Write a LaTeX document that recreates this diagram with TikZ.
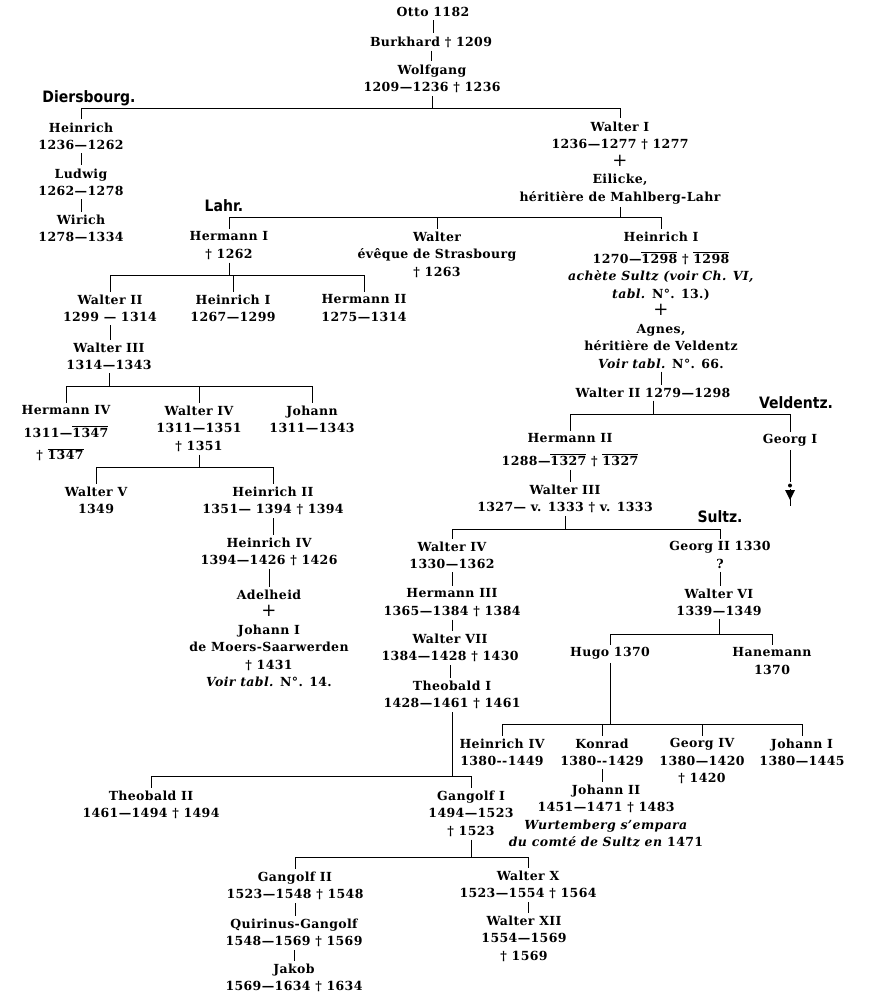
\documentclass[tikz,border=0pt]{standalone}
\usepackage{fontspec}
\setmainfont{DejaVu Serif}[LetterSpace=3]
\newfontfamily\lblfamily{DejaVu Sans}
\newcommand\pfont{\fontsize{12.5}{17.5}\selectfont\bfseries}
\newcommand\plusfont{\fontsize{18}{17.5}\selectfont\mdseries}
\newcommand\lblfont{\lblfamily\fontsize{14}{16}\selectfont\bfseries}
\newcommand\myover[1]{\ensuremath{\overline{\hbox{#1}}}}
\begin{document}
\begin{tikzpicture}[x=1pt,y=-1pt,
  person/.style={align=center, inner xsep=0pt, inner ysep=3pt, anchor=north, yshift=7.5pt, font=\pfont},
  lbl/.style={inner sep=0pt, font=\lblfont, yscale=1.12, transform shape},
  ln/.style={line width=0.85pt}]
\fill[white] (0,0) rectangle (869,995);
\path[use as bounding box] (0,0) rectangle (869,995);

% ---------- top ----------
\node[person] (otto) at (433,12) {Otto 1182};
\node[person] (burk) at (431,41) {Burkhard † 1209};
\node[person] (wolf) at (432,69) {Wolfgang\\1209—1236 † 1236};

% ---------- Diersbourg ----------
\node[lbl] (dier) at (89,98) {Diersbourg.};
\node[person] (dhein) at (81,127) {Heinrich\\1236—1262};
\node[person] (ludw) at (81,173) {Ludwig\\1262—1278};
\node[person] (wiri) at (81,219) {Wirich\\1278—1334};

\node[person] (walt1) at (620,126) {Walter I\\1236—1277 † 1277\\{\plusfont +}\\Eilicke,\\héritière de Mahlberg-Lahr};

% ---------- Lahr ----------
\node[lbl] (lahr) at (224,206) {Lahr.};
\node[person] (herm1) at (229,236) {Hermann I\\† 1262};
\node[person] (bish) at (437,236) {Walter\\évêque de Strasbourg\\† 1263};
\node[person] (hein1) at (661,236) {Heinrich I\\[4.5pt]1270—\myover{1298} † \myover{1298}\\\textit{achète Sultz (voir Ch. VI,}\\\textit{tabl.} N°. 13.)\\{\plusfont +}\\Agnes,\\héritière de Veldentz\\\textit{Voir tabl.} N°. 66.};
\node[person] (walt2r) at (653,392) {Walter II 1279—1298};

\node[person] (walt2l) at (110,299) {Walter II\\1299 — 1314};
\node[person] (hein1l) at (233,299) {Heinrich I\\1267—1299};
\node[person] (herm2l) at (364,299) {Hermann II\\1275—1314};
\node[person] (walt3l) at (109,347) {Walter III\\1314—1343};
\node[person] (herm4) at (66,410) {Hermann IV\\[5pt]1311—\myover{1347}\\[5pt]† \myover{1347}\hspace*{12pt}};
\node[person] (walt4l) at (199,410) {Walter IV\\1311—1351\\† 1351};
\node[person] (joh) at (312,410) {Johann\\1311—1343};
\node[person] (walt5) at (96,491) {Walter V\\1349};
\node[person] (hein2) at (273,491) {Heinrich II\\1351— 1394 † 1394};
\node[person] (hein4l) at (269,542) {Heinrich IV\\1394—1426 † 1426};
\node[person] (adel) at (269,594) {Adelheid\\{\plusfont +}\\Johann I\\de Moers-Saarwerden\\† 1431\\\textit{Voir tabl.} N°. 14.};

% ---------- Veldentz / Sultz ----------
\node[lbl] (veld) at (796,403) {Veldentz.};
\node[person] (herm2r) at (570,438) {Hermann II\\[5pt]1288—\myover{1327} † \myover{1327}};
\node[person] (georg1) at (790,439) {Georg I};
\node[person] (walt3r) at (565,489) {Walter III\\1327— v. 1333 † v. 1333};
\node[lbl] (sultz) at (720,517) {Sultz.};
\node[person] (walt4r) at (452,546) {Walter IV\\1330—1362};
\node[person] (georg2) at (720,546) {Georg II 1330\\?};
\node[person] (walt6) at (719,593) {Walter VI\\1339—1349};
\node[person] (hugo) at (610,652) {Hugo 1370};
\node[person] (hanem) at (772,652) {Hanemann\\1370};
\node[person] (herm3) at (452,593) {Hermann III\\1365—1384 † 1384};
\node[person] (walt7) at (450,638) {Walter VII\\1384—1428 † 1430};
\node[person] (theo1) at (452,685) {Theobald I\\1428—1461 † 1461};
\node[person] (hein4r) at (502,743) {Heinrich IV\\1380-{}-1449};
\node[person] (konr) at (602,743) {Konrad\\1380-{}-1429};
\node[person] (georg4) at (702,743) {Georg IV\\1380—1420\\† 1420};
\node[person] (joh1) at (802,743) {Johann I\\1380—1445};
\node[person] (joh2) at (606,789) {Johann II\\1451—1471 † 1483\\\textit{Wurtemberg s'empara}\\\textit{du comté de Sultz en} 1471};
\node[person] (theo2) at (151,795) {Theobald II\\1461—1494 † 1494};
\node[person] (gang1) at (471,795) {Gangolf I\\1494—1523\\† 1523};
\node[person] (gang2) at (295,876) {Gangolf II\\1523—1548 † 1548};
\node[person] (walt10) at (528,875) {Walter X\\1523—1554 † 1564};
\node[person] (quir) at (294,923) {Quirinus-Gangolf\\1548—1569 † 1569};
\node[person] (jakob) at (294,968) {Jakob\\1569—1634 † 1634};
\node[person] (walt12) at (524,920) {Walter XII\\1554—1569\\† 1569};

% ---------- single descents ----------
\foreach \a/\b in {otto/burk, burk/wolf, dhein/ludw, ludw/wiri, hein1/walt2r,
  walt2l/walt3l, hein2/hein4l, hein4l/adel, herm2r/walt3r, georg2/walt6,
  walt4r/herm3, herm3/walt7, walt7/theo1, konr/joh2, gang2/quir, quir/jakob, walt10/walt12}
  \draw[ln] (\a.south) -- (\a.south |- \b.north);

% ---------- bars ----------
\coordinate (B1) at (0,108);
\draw[ln] (wolf.south) -- (wolf.south |- B1);
\draw[ln] (dhein.north) -- (dhein.north |- B1) -- (walt1.north |- B1) -- (walt1.north);

\coordinate (B2) at (0,217);
\draw[ln] (walt1.south) -- (walt1.south |- B2);
\draw[ln] (herm1.north) -- (herm1.north |- B2) -- (hein1.north |- B2) -- (hein1.north);
\draw[ln] (bish.north) -- (bish.north |- B2);

\coordinate (B3) at (0,275);
\draw[ln] (herm1.south) -- (herm1.south |- B3);
\draw[ln] (walt2l.north) -- (walt2l.north |- B3) -- (herm2l.north |- B3) -- (herm2l.north);
\draw[ln] (hein1l.north) -- (hein1l.north |- B3);

\coordinate (B4) at (0,386);
\draw[ln] (walt3l.south) -- (walt3l.south |- B4);
\draw[ln] (herm4.north) -- (herm4.north |- B4) -- (joh.north |- B4) -- (joh.north);
\draw[ln] (walt4l.north) -- (walt4l.north |- B4);

\coordinate (B5) at (0,467);
\draw[ln] (walt4l.south) -- (walt4l.south |- B5);
\draw[ln] (walt5.north) -- (walt5.north |- B5) -- (hein2.north |- B5) -- (hein2.north);

\coordinate (B6) at (0,414);
\draw[ln] (walt2r.south) -- (walt2r.south |- B6);
\draw[ln] (herm2r.north) -- (herm2r.north |- B6) -- (georg1.north |- B6) -- (georg1.north);

\coordinate (B7) at (0,529);
\draw[ln] (walt3r.south) -- (walt3r.south |- B7);
\draw[ln] (walt4r.north) -- (walt4r.north |- B7) -- (georg2.north |- B7) -- (georg2.north);

\coordinate (B8) at (0,634);
\draw[ln] (walt6.south) -- (walt6.south |- B8);
\draw[ln] (hugo.north) -- (hugo.north |- B8) -- (hanem.north |- B8) -- (hanem.north);

\coordinate (B9) at (0,724);
\draw[ln] (hugo.south) -- (hugo.south |- B9);
\draw[ln] (hein4r.north) -- (hein4r.north |- B9) -- (joh1.north |- B9) -- (joh1.north);
\draw[ln] (konr.north) -- (konr.north |- B9);
\draw[ln] (georg4.north) -- (georg4.north |- B9);

\coordinate (B10) at (0,776);
\draw[ln] (theo1.south) -- (theo1.south |- B10);
\draw[ln] (theo2.north) -- (theo2.north |- B10) -- (gang1.north |- B10) -- (gang1.north);

\coordinate (B11) at (0,857);
\draw[ln] (gang1.south) -- (gang1.south |- B11);
\draw[ln] (gang2.north) -- (gang2.north |- B11) -- (walt10.north |- B11) -- (walt10.north);

% ---------- Georg I continuation ----------
\coordinate (g1) at (0,482);
\coordinate (gd) at (0,485.5);
\coordinate (g2) at (0,489);
\coordinate (g3) at (0,506);
\draw[ln] (georg1.south) -- (georg1.south |- g1);
\fill (georg1.south |- gd) circle (2pt);
\draw[ln] (georg1.south |- g2) -- (georg1.south |- g3);
\fill ([xshift=-5pt]georg1.south |- 0,490) -- ([xshift=5pt]georg1.south |- 0,490) -- (georg1.south |- 0,500) -- cycle;
\end{tikzpicture}
\end{document}
